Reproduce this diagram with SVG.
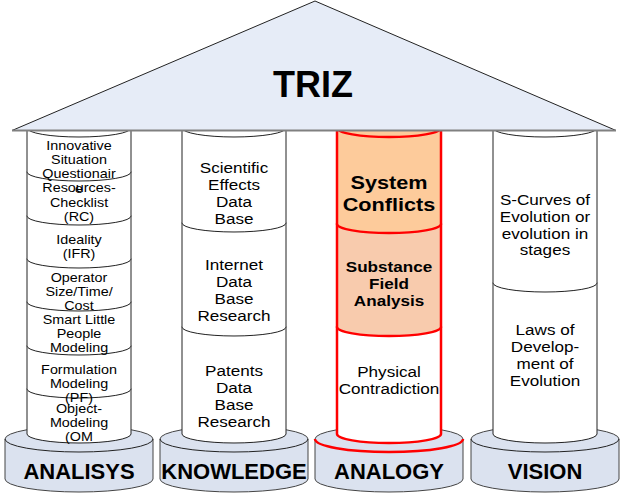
<svg xmlns="http://www.w3.org/2000/svg" width="620" height="496" viewBox="0 0 620 496">
<style>
text{font-family:"Liberation Sans",Arial,sans-serif;fill:#000;text-anchor:middle}
.seg{fill:#fff;stroke:#222;stroke-width:1}
.red{stroke:#f00;stroke-width:2.5}
.base{fill:#dbe2ef;stroke:#444;stroke-width:1}
.arc{fill:none;stroke:#222;stroke-width:1}
.arcr{fill:none;stroke:#f00;stroke-width:2.5}
.t1{font-size:12.6px}
.t2{font-size:15px}
.tb{font-weight:bold}
.lbl{font-size:22px;font-weight:bold}
</style>
<rect width="620" height="496" fill="#fff"/>
<g id="connectors"/>
<!-- bases -->
<g id="base-analisys">
<path class="base" d="M5,439 A74,13 0 0 1 153,439 L153,479 A74,13 0 0 1 5,479 Z"/>
<path class="arc" d="M5,439 A74,13 0 0 0 153,439"/>
<text class="lbl" x="79" y="479">ANALISYS</text>
</g>
<g id="base-knowledge">
<path class="base" d="M160,439 A74,13 0 0 1 308,439 L308,479 A74,13 0 0 1 160,479 Z"/>
<path class="arc" d="M160,439 A74,13 0 0 0 308,439"/>
<text class="lbl" x="234" y="479">KNOWLEDGE</text>
</g>
<g id="base-analogy">
<path class="base red" d="M315,439 A74,13 0 0 1 463,439 L463,479 A74,13 0 0 1 315,479 Z"/>
<path class="arcr" d="M315,439 A74,13 0 0 0 463,439"/>
<text class="lbl" x="389" y="479">ANALOGY</text>
</g>
<g id="base-vision">
<path class="base" d="M471,439 A74,13 0 0 1 619,439 L619,479 A74,13 0 0 1 471,479 Z"/>
<path class="arc" d="M471,439 A74,13 0 0 0 619,439"/>
<text class="lbl" x="545" y="479">VISION</text>
</g>
<!-- pillar 1 -->
<g id="pillar-analisys">
<path class="seg" d="M27,389 A52,9 0 0 1 131,389 L131,434 A52,9 0 0 1 27,434 Z"/>
<path class="seg" d="M27,346 A52,9 0 0 1 131,346 L131,389 A52,9 0 0 1 27,389 Z"/>
<path class="seg" d="M27,302 A52,9 0 0 1 131,302 L131,346 A52,9 0 0 1 27,346 Z"/>
<path class="seg" d="M27,259 A52,9 0 0 1 131,259 L131,302 A52,9 0 0 1 27,302 Z"/>
<path class="seg" d="M27,216 A52,9 0 0 1 131,216 L131,259 A52,9 0 0 1 27,259 Z"/>
<path class="seg" d="M27,172 A52,9 0 0 1 131,172 L131,216 A52,9 0 0 1 27,216 Z"/>
<path class="seg" d="M27,128 A52,9 0 0 1 131,128 L131,172 A52,9 0 0 1 27,172 Z"/>
<path class="arc" d="M27,128 A52,9 0 0 0 131,128"/>
<g class="t1" transform="translate(79 0) scale(1.14 1)">
<text y="150">Innovative</text>
<text y="164">Situation</text>
<text y="178">Questionair</text>
<text y="192">Resources-</text>
<text y="193">e</text>
<text y="207">Checklist</text>
<text y="221">(RC)</text>
<text y="244">Ideality</text>
<text y="258">(IFR)</text>
<text y="282">Operator</text>
<text y="296">Size/Time/</text>
<text y="310">Cost</text>
<text y="324">Smart Little</text>
<text y="338">People</text>
<text y="352">Modeling</text>
<text y="374">Formulation</text>
<text y="388">Modeling</text>
<text y="402">(PF)</text>
<text y="413">Object-</text>
<text y="427">Modeling</text>
<text y="441">(OM</text>
</g>
</g>
<!-- pillar 2 -->
<g id="pillar-knowledge">
<path class="seg" d="M182,327 A52,9 0 0 1 286,327 L286,434 A52,9 0 0 1 182,434 Z"/>
<path class="seg" d="M182,223 A52,9 0 0 1 286,223 L286,327 A52,9 0 0 1 182,327 Z"/>
<path class="seg" d="M182,128 A52,9 0 0 1 286,128 L286,223 A52,9 0 0 1 182,223 Z"/>
<path class="arc" d="M182,128 A52,9 0 0 0 286,128"/>
<g class="t2" transform="translate(234 0) scale(1.14 1)">
<text y="173">Scientific</text>
<text y="190">Effects</text>
<text y="207">Data</text>
<text y="224">Base</text>
<text y="270">Internet</text>
<text y="287">Data</text>
<text y="304">Base</text>
<text y="321">Research</text>
<text y="376">Patents</text>
<text y="393">Data</text>
<text y="410">Base</text>
<text y="427">Research</text>
</g>
</g>
<!-- pillar 3 -->
<g id="pillar-analogy">
<path class="seg red" d="M337,327 A52,9 0 0 1 441,327 L441,434 A52,9 0 0 1 337,434 Z"/>
<path class="seg red" style="fill:#f8cbad" d="M337,224 A52,9 0 0 1 441,224 L441,327 A52,9 0 0 1 337,327 Z"/>
<path class="seg red" style="fill:#fdcb9b" d="M337,128 A52,9 0 0 1 441,128 L441,224 A52,9 0 0 1 337,224 Z"/>
<path class="arcr" d="M337,128 A52,9 0 0 0 441,128"/>
<g transform="translate(389 0) scale(1.14 1)">
<text class="tb" style="font-size:19px" y="189">System</text>
<text class="tb" style="font-size:19px" y="211">Conflicts</text>
<text class="tb" style="font-size:15px" y="272">Substance</text>
<text class="tb" style="font-size:15px" y="289">Field</text>
<text class="tb" style="font-size:15px" y="306">Analysis</text>
<text class="t2" y="377">Physical</text>
<text class="t2" y="394">Contradiction</text>
</g>
</g>
<!-- pillar 4 -->
<g id="pillar-vision">
<path class="seg" d="M493,283 A52,9 0 0 1 597,283 L597,434 A52,9 0 0 1 493,434 Z"/>
<path class="seg" d="M493,128 A52,9 0 0 1 597,128 L597,283 A52,9 0 0 1 493,283 Z"/>
<path class="arc" d="M493,128 A52,9 0 0 0 597,128"/>
<g class="t2" transform="translate(545 0) scale(1.14 1)">
<text y="205">S-Curves of</text>
<text y="222">Evolution or</text>
<text y="239">evolution in</text>
<text y="255">stages</text>
<text y="335">Laws of</text>
<text y="352">Develop-</text>
<text y="369">ment of</text>
<text y="386">Evolution</text>
</g>
</g>
<!-- roof -->
<g id="roof">
<polygon points="12,130.5 315,1 616,130.5" fill="#e6ecf7" stroke="#222" stroke-width="1"/>
<line x1="12" y1="130.5" x2="616" y2="130.5" stroke="#808080" stroke-width="2"/>
<text x="313" y="97" style="font-size:36px;font-weight:bold">TRIZ</text>
</g>
</svg>
